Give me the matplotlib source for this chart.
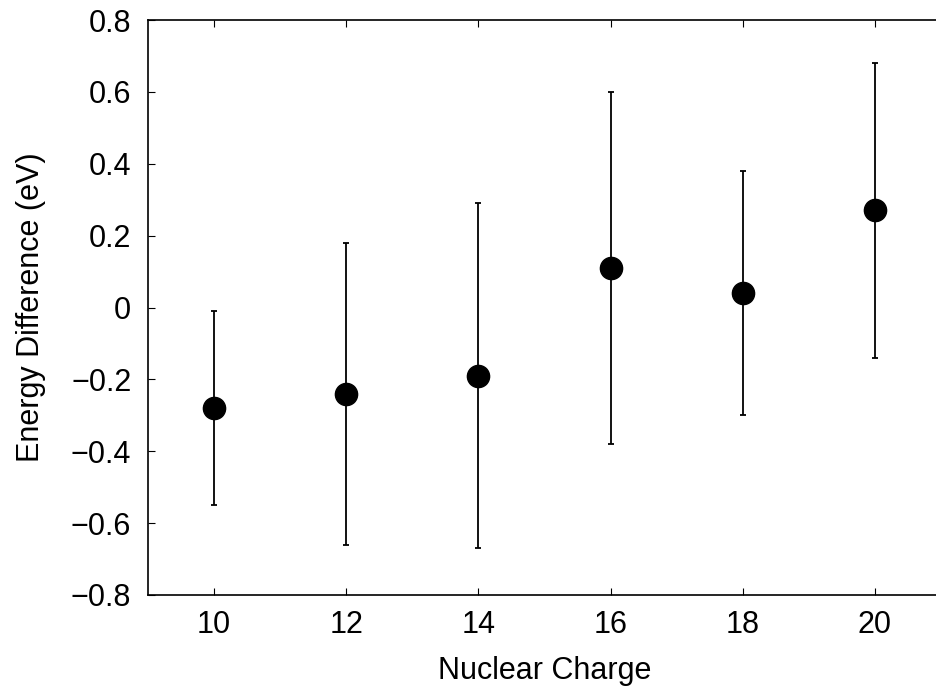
import matplotlib
matplotlib.use("Agg")
import matplotlib.pyplot as plt

charge = [10, 12, 14, 16, 18, 20]
energy = [-0.28, -0.24, -0.19, 0.11, 0.04, 0.27]
lower = [-0.55, -0.66, -0.67, -0.38, -0.30, -0.14]
upper = [-0.01, 0.18, 0.29, 0.60, 0.38, 0.68]
xticks = [10, 12, 14, 16, 18, 20]
yticks = [-0.8, -0.6, -0.4, -0.2, 0, 0.2, 0.4, 0.6, 0.8]
ylabels = ["\u22120.8", "\u22120.6", "\u22120.4", "\u22120.2", "0", "0.2", "0.4", "0.6", "0.8"]

plt.rcParams['font.family'] = ['Liberation Sans', 'DejaVu Sans']

fig = plt.figure(figsize=(9.37, 6.89), dpi=100)
W, H = 937, 689
left, right, top, bottom = 148, 941, 20, 595
ax = fig.add_axes([left / W, 1 - bottom / H, (right - left) / W, (bottom - top) / H])

yerr = [[e - l for e, l in zip(energy, lower)], [u - e for u, e in zip(upper, energy)]]
ax.errorbar(charge, energy, yerr=yerr, fmt='o', color='black', ms=16,
            elinewidth=1.3, capsize=2.5, capthick=1.3)

ax.set_xlim(9, 21)
ax.set_ylim(-0.8, 0.8)
ax.set_xticks(xticks)
ax.set_xticklabels([str(t) for t in xticks])
ax.set_yticks(yticks)
ax.set_yticklabels(ylabels)
ax.tick_params(axis='x', pad=11)
ax.tick_params(axis='y', pad=12)
ax.tick_params(direction='in', length=5, width=0.8, labelsize=22, top=True, right=False)
for s in ax.spines.values():
    s.set_linewidth(1.2)
ax.set_xlabel("Nuclear Charge", fontsize=22, labelpad=11)
ax.set_ylabel("Energy Difference (eV)", fontsize=22, labelpad=18)

fig.savefig("out.png", dpi=100)
